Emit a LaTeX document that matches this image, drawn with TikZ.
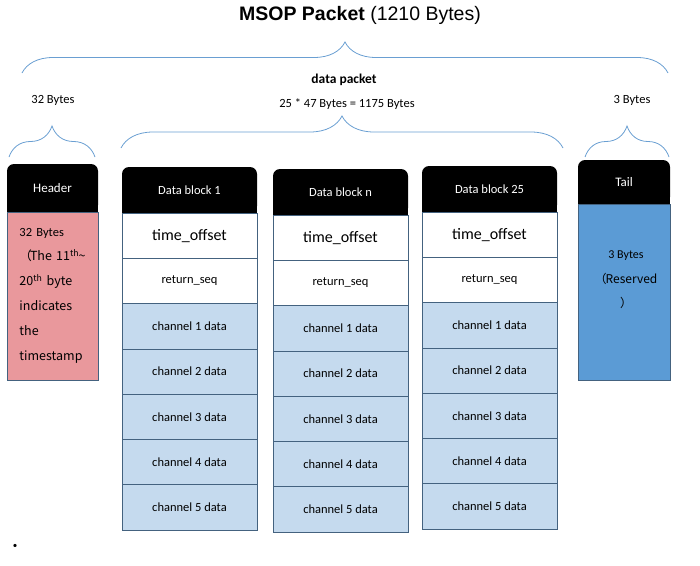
\documentclass[tikz,border=0pt]{standalone}
\usepackage{fontspec}
\setmainfont{Carlito}
\newfontfamily\titlefont{Liberation Sans}
\newfontfamily\cjk{Noto Sans CJK SC}
\usetikzlibrary{positioning, decorations.pathreplacing, backgrounds}

\definecolor{cellblue}{HTML}{C5DAEE}
\definecolor{tailblue}{HTML}{5B9BD5}
\definecolor{headpink}{HTML}{E9989C}
\definecolor{edge}{HTML}{44627F}
\definecolor{bracecol}{HTML}{6A9FD2}

\begin{document}
\begin{tikzpicture}[x=1pt, y=1pt,
  every node/.style={font=\fontsize{12.5}{15}\selectfont},
  headbox/.style={fill=black, text=white, rounded corners=7pt, minimum height=46pt, inner sep=0pt, outer sep=0pt},
  cell/.style={draw=edge, line width=0.7pt, minimum width=135pt, minimum height=45.3pt, inner sep=0pt, outer sep=0pt},
  chan/.style={cell, fill=cellblue},
  brc/.style={draw=bracecol, line width=0.8pt, decorate, decoration={brace, amplitude=#1}}
]
  \useasboundingbox (0,0) rectangle (700,-565);

  % title and sizes
  \node (title) at (360,-15) {\titlefont\fontsize{19.5}{22}\selectfont\bfseries MSOP Packet \mdseries(1210 Bytes)};
  \draw[brc=31] (22,-73) -- (668,-73);
  \node[font=\fontsize{13.5}{16}\selectfont\bfseries] (pkt) at (344,-80) {data packet};
  \node (hdrsize) at (53,-100) {32 Bytes};
  \node (blksize) at (347,-104) {25 * 47 Bytes = 1175 Bytes};
  \node (tailsize) at (632,-100) {3 Bytes};
  \draw[brc=32] (121,-148) -- (563,-148);
  \draw[brc=31] (9,-157) -- (95,-157);
  \draw[brc=31] (585,-157) -- (669,-157);

  % header
  \node[headbox, minimum width=91pt, minimum height=48pt, anchor=north, font=\fontsize{13}{15}\selectfont] (hdr-head) at (52.5,-164) {Header};
  \node[draw=edge, fill=headpink, line width=0.7pt, minimum width=91pt, minimum height=168pt, outer sep=0pt,
        below=0pt of hdr-head, text width=66pt, inner xsep=12.5pt, align=left,
        font=\fontsize{12.5}{25}\selectfont] (hdr-body)
        {32 Bytes\\\kern-1pt\cjk{（}\kern-2pt The~11\textsuperscript{th}\kern-.5pt\textasciitilde\\20\textsuperscript{th} byte\\indicates\\the\\timestamp};

  % data blocks
  \foreach \blk/\num/\cx/\cy in {b1/1/189.5/167, bn/n/340.5/169, b25/25/489.5/166} {
    \node[headbox, minimum width=135pt, anchor=north, font=\fontsize{12.5}{15}\selectfont] (\blk-head) at (\cx,-\cy) {Data block \num};
    \node[cell, below=0pt of \blk-head, font=\fontsize{16}{19}\selectfont] (\blk-time) {time\_offset};
    \node[cell, below=0pt of \blk-time] (\blk-seq) {return\_seq};
    \node[chan, below=0pt of \blk-seq] (\blk-ch1) {channel 1 data};
    \foreach \i [count=\j from 2] in {1,...,4}
      \node[chan, below=0pt of \blk-ch\i] (\blk-ch\j) {channel \j\ data};
  }

  % tail
  \node[headbox, minimum width=92pt, minimum height=44pt, anchor=north, font=\fontsize{13}{15}\selectfont] (tail-head) at (624,-160) {Tail};
  \node[draw=edge, fill=tailblue, line width=0.7pt, minimum width=92pt, minimum height=176pt, outer sep=0pt,
        below=0pt of tail-head] (tail-body) {};
  \node[align=center, font=\fontsize{12}{24.5}\selectfont] (tail-note) at ([xshift=2pt, yshift=12pt]tail-body.center)
        {3 Bytes\\\cjk{（}\kern-1pt Reserved\\\cjk{）}};

  % square off the lower corners of the black heads
  \begin{scope}[on background layer]
    \foreach \hd in {hdr-head, b1-head, bn-head, b25-head, tail-head}
      \fill (\hd.west) rectangle (\hd.south east);
  \end{scope}

  \node[font=\fontsize{9}{10}\selectfont] (dot) at (15,-546) {•};
\end{tikzpicture}
\end{document}
